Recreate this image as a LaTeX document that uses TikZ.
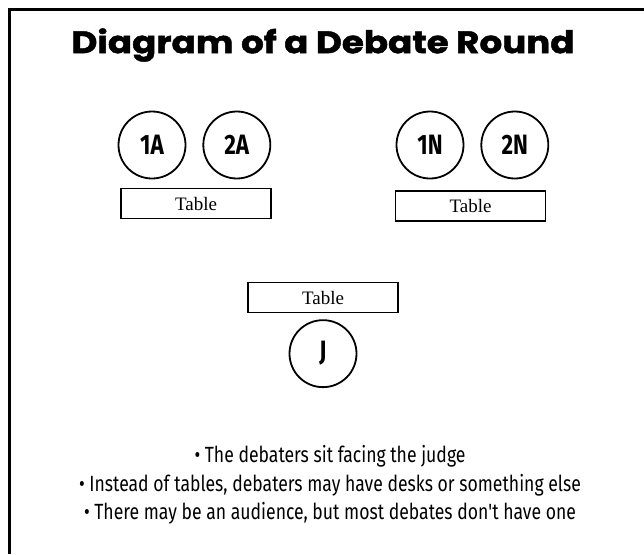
\documentclass[tikz,border=0pt]{standalone}
\usepackage{fontspec}
\setmainfont{Liberation Serif}
\newfontfamily\titlefont{Poppins}[FakeStretch=1.15, FakeBold=1.5]
\newfontfamily\notefont{Fira Sans}[FakeStretch=0.8]
\newfontfamily\seatfont{Fira Sans}[FakeStretch=0.8]
\usetikzlibrary{positioning}

\begin{document}
\begin{tikzpicture}[x=1pt, y=-1pt, node distance=16pt]
  \tikzset{
    seat/.style={draw, circle, line width=1.8pt, minimum size=67pt, inner sep=0pt, font=\seatfont\bfseries\fontsize{28}{28}\selectfont},
    desk/.style={draw, line width=1.5pt, minimum width=150pt, minimum height=30pt, inner sep=0pt, font=\fontsize{19}{19}\selectfont},
    note/.style={font=\notefont\fontsize{22}{22}\selectfont, inner sep=0pt, anchor=base}
  }
  \useasboundingbox (0,0) rectangle (644,554);
  \draw[line width=2.5pt] (9.5,554) |- (644,9.5);
  \node[font=\titlefont\bfseries\fontsize{31}{31}\selectfont] (title) at (323,45) {Diagram of a Debate Round};
  % affirmative side
  \node[seat] (a1) at (152,145) {1A};
  \node[seat, right=of a1] (a2) {2A};
  \node[desk] (adesk) at (196,203.5) {Table};
  % negative side
  \node[seat] (n1) at (430,145) {1N};
  \node[seat, right=of n1] (n2) {2N};
  \node[desk] (ndesk) at (470.5,206) {Table};
  % judge
  \node[desk] (jdesk) at (323,297.5) {Table};
  \node[seat, below=6pt of jdesk] (judge) {J};
  % notes
  \node[note] (note1) at (330,462) {• The debaters sit facing the judge};
  \node[note] (note2) at (330,491) {• Instead of tables, debaters may have desks or something else};
  \node[note] (note3) at (330,519) {• There may be an audience, but most debates don't have one};
\end{tikzpicture}
\end{document}
